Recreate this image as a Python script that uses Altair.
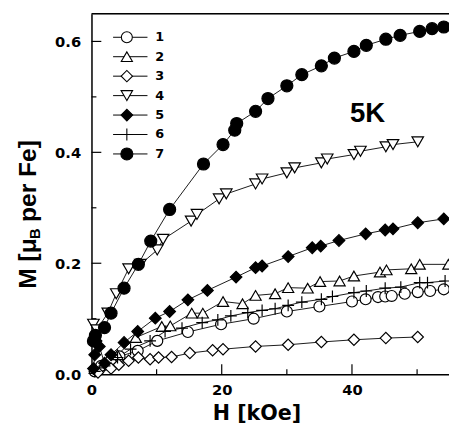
import altair as alt
import pandas as pd

# ---- data ----
names = ["1", "2", "3", "4", "5", "6", "7"]

h1 = [0.5, 1.5, 3.0, 4.3, 7.1, 10.1, 14.8, 19.9, 24.9, 30.0, 35.0, 40.0, 42.1, 44.0, 45.1, 46.1, 48.1, 50.1, 52.0, 54.1]
m1 = [0.005, 0.015, 0.025, 0.032, 0.042, 0.060, 0.076, 0.090, 0.100, 0.113, 0.122, 0.131, 0.135, 0.139, 0.140, 0.141, 0.145, 0.148, 0.150, 0.153]

h2 = [0.5, 2.0, 4.0, 6.8, 10.8, 12.1, 15.4, 17.1, 20.2, 23.2, 25.2, 28.2, 30.2, 33.2, 35.1, 38.1, 40.3, 44.3, 45.3, 49.1, 50.4, 54.8]
m2 = [0.010, 0.020, 0.035, 0.066, 0.086, 0.087, 0.110, 0.110, 0.131, 0.127, 0.142, 0.145, 0.156, 0.155, 0.167, 0.168, 0.177, 0.184, 0.188, 0.190, 0.198, 0.198]

h3 = [1.0, 3.0, 4.2, 5.7, 7.2, 9.0, 10.3, 12.3, 15.1, 18.6, 20.2, 25.2, 30.2, 35.3, 40.3, 45.2, 50.1]
m3 = [0.003, 0.010, 0.017, 0.024, 0.030, 0.027, 0.030, 0.031, 0.038, 0.043, 0.045, 0.050, 0.053, 0.058, 0.062, 0.065, 0.067]

h4 = [0.3, 0.8, 2.5, 3.8, 5.7, 7.5, 10.1, 11.0, 15.3, 16.2, 19.6, 20.7, 25.2, 26.2, 30.0, 31.2, 35.3, 36.2, 40.3, 41.3, 45.2, 46.3, 50.1]
m4 = [0.090, 0.080, 0.110, 0.145, 0.190, 0.198, 0.224, 0.243, 0.276, 0.288, 0.316, 0.325, 0.343, 0.352, 0.363, 0.372, 0.381, 0.388, 0.396, 0.402, 0.410, 0.414, 0.419]

h5 = [0.3, 0.5, 0.7, 1.2, 2.0, 3.0, 5.0, 7.1, 9.8, 12.0, 14.8, 17.8, 22.2, 25.2, 26.2, 30.2, 33.9, 35.2, 38.0, 42.1, 45.1, 46.3, 50.1, 54.1]
m5 = [0.010, 0.035, 0.060, 0.050, 0.020, 0.035, 0.057, 0.077, 0.101, 0.113, 0.134, 0.151, 0.175, 0.192, 0.195, 0.212, 0.228, 0.231, 0.241, 0.253, 0.260, 0.262, 0.273, 0.280]

h6 = [0.5, 2.0, 4.0, 6.0, 9.0, 11.3, 13.9, 17.0, 19.4, 21.4, 24.0, 26.2, 28.2, 30.2, 32.3, 35.3, 37.0, 40.3, 42.2, 45.1, 47.5, 50.4, 51.6, 54.3]
m6 = [0.005, 0.015, 0.030, 0.045, 0.060, 0.077, 0.083, 0.093, 0.098, 0.105, 0.111, 0.115, 0.118, 0.124, 0.130, 0.135, 0.140, 0.147, 0.150, 0.155, 0.157, 0.165, 0.165, 0.168]

h7 = [0.3, 0.6, 2.0, 3.0, 5.0, 7.2, 9.1, 12.0, 17.2, 20.2, 22.0, 22.3, 25.2, 27.1, 30.0, 32.3, 35.3, 37.3, 40.3, 42.2, 45.2, 47.4, 50.4, 52.3, 54.1]
m7 = [0.060, 0.070, 0.084, 0.110, 0.155, 0.198, 0.240, 0.297, 0.379, 0.414, 0.440, 0.452, 0.474, 0.497, 0.520, 0.540, 0.556, 0.570, 0.582, 0.593, 0.604, 0.611, 0.618, 0.623, 0.626]

xs = [h1, h2, h3, h4, h5, h6, h7]
ys = [m1, m2, m3, m4, m5, m6, m7]

x_major = [20, 40]
x_minor = [10, 30, 50]
y_major = [0.2, 0.4, 0.6]
y_minor = [0.1, 0.3, 0.5]

annot = "5K"

# ---- styling ----
shapes = ["circle", "triangle-up", "diamond", "triangle-down", "diamond", "M-1,0L1,0M0,-1L0,1", "circle"]
fills = ["white", "white", "white", "white", "black", "white", "black"]
sizes = [125, 150, 185, 150, 185, 110, 165]
leg_sizes = [55, 70, 85, 70, 90, 80, 85]

W, H = 364, 367
FONT = "DejaVu Sans"

rows = []
for n, hx, my in zip(names, xs, ys):
    for a, b in zip(hx, my):
        rows.append({"series": n, "H": a, "M": b})
df = pd.DataFrame(rows)
leg = pd.DataFrame({"series": names, "i": list(range(len(names)))})

xscale = alt.Scale(domain=[0, 54.9], nice=False, zero=False)
yscale = alt.Scale(domain=[0, 0.65], nice=False, zero=False)
shape_s = alt.Scale(domain=names, range=shapes)
fill_s = alt.Scale(domain=names, range=fills)

X = alt.X("H:Q", scale=xscale,
          axis=alt.Axis(values=[0, 20, 40], format="d", ticks=False, grid=False,
                        domainColor="black", domainWidth=1.5,
                        labelFont=FONT, labelFontWeight="bold", labelFontSize=15,
                        labelColor="black", labelPadding=9, labelFlush=False,
                        title="H [kOe]", titleFont=FONT, titleFontWeight="bold",
                        titleFontSize=21, titleColor="black", titleX=168, titleY=46,
                        titleBaseline="alphabetic"))
Y = alt.Y("M:Q", scale=yscale,
          axis=alt.Axis(values=[0, 0.2, 0.4, 0.6], format=".1f", ticks=False, grid=False,
                        domainColor="black", domainWidth=1.5,
                        labelFont=FONT, labelFontWeight="bold", labelFontSize=15,
                        labelColor="black", labelPadding=11, labelFlush=False,
                        title=None))

base = alt.Chart(df)
lines = base.mark_line(color="black", strokeWidth=0.9).encode(
    x=X, y=Y, detail="series:N", order="H:Q")
points = base.mark_point(filled=True, stroke="black", strokeWidth=1.2, opacity=1).encode(
    x=alt.X("H:Q", scale=xscale),
    y=alt.Y("M:Q", scale=yscale),
    shape=alt.Shape("series:N", scale=shape_s, legend=None),
    fill=alt.Fill("series:N", scale=fill_s, legend=None),
    size=alt.Size("series:O", scale=alt.Scale(domain=names, range=sizes), legend=None),
)

# inward ticks
ty_maj = alt.Chart(pd.DataFrame({"v": y_major})).mark_rule(color="black", strokeWidth=1.2).encode(
    y=alt.Y("v:Q", scale=yscale), x=alt.value(0), x2=alt.value(10))
ty_min = alt.Chart(pd.DataFrame({"v": y_minor})).mark_rule(color="black", strokeWidth=1.2).encode(
    y=alt.Y("v:Q", scale=yscale), x=alt.value(0), x2=alt.value(5))
tx_maj = alt.Chart(pd.DataFrame({"v": x_major})).mark_rule(color="black", strokeWidth=1.2).encode(
    x=alt.X("v:Q", scale=xscale), y=alt.value(H), y2=alt.value(H - 10))
tx_min = alt.Chart(pd.DataFrame({"v": x_minor})).mark_rule(color="black", strokeWidth=1.2).encode(
    x=alt.X("v:Q", scale=xscale), y=alt.value(H), y2=alt.value(H - 5))
top = alt.Chart(pd.DataFrame({"v": [0]})).mark_rule(color="black", strokeWidth=1.5).encode(
    y=alt.value(0), x=alt.value(0), x2=alt.value(W))

# legend
lb = alt.Chart(leg).transform_calculate(ly="24 + datum.i * 19.8")
leg_rule = lb.mark_rule(color="black", strokeWidth=1).encode(
    y=alt.Y("ly:Q", scale=None), x=alt.value(22), x2=alt.value(57))
leg_pt = lb.mark_point(filled=True, stroke="black", strokeWidth=1.1, opacity=1).encode(
    y=alt.Y("ly:Q", scale=None), x=alt.value(36),
    shape=alt.Shape("series:N", scale=shape_s, legend=None),
    fill=alt.Fill("series:N", scale=fill_s, legend=None),
    size=alt.Size("series:O", scale=alt.Scale(domain=names, range=leg_sizes), legend=None),
)
leg_txt = lb.mark_text(align="left", baseline="middle", font=FONT, fontWeight="bold",
                       fontSize=13, color="black").encode(
    y=alt.Y("ly:Q", scale=None), x=alt.value(65), text="series:N")

# annotation
t5k = alt.Chart(pd.DataFrame({"t": [annot]})).mark_text(
    font="Liberation Sans", fontWeight="bold", fontSize=28, color="black",
    align="center", baseline="alphabetic").encode(
    x=alt.value(281), y=alt.value(110), text="t:N")

# y title in pieces (subscript B)
yt_font = "Liberation Sans"
yt1 = alt.Chart(pd.DataFrame({"t": ["M [\u03bc"]})).mark_text(
    font=yt_font, fontWeight="bold", fontSize=25, color="black", angle=270,
    align="left", baseline="alphabetic").encode(
    x=alt.value(-57), y=alt.value(280), text="t:N")
yt2 = alt.Chart(pd.DataFrame({"t": ["B"]})).mark_text(
    font=yt_font, fontWeight="bold", fontSize=15, color="black", angle=270,
    align="left", baseline="alphabetic").encode(
    x=alt.value(-52), y=alt.value(229.5), text="t:N")
yt3 = alt.Chart(pd.DataFrame({"t": ["per Fe]"]})).mark_text(
    font=yt_font, fontWeight="bold", fontSize=25, color="black", angle=270,
    align="left", baseline="alphabetic").encode(
    x=alt.value(-57), y=alt.value(212), text="t:N")

chart = alt.layer(
    lines, points, ty_maj, ty_min, tx_maj, tx_min, top,
    leg_rule, leg_pt, leg_txt, t5k, yt1, yt2, yt3
).properties(
    width=W, height=H,
    autosize=alt.AutoSizeParams(type="none"),
    padding={"left": 85, "top": 2, "right": 0, "bottom": 50},
).configure_view(stroke=None).configure(background="white")

chart.save("out.html", embed_options={"renderer": "svg", "actions": False})
